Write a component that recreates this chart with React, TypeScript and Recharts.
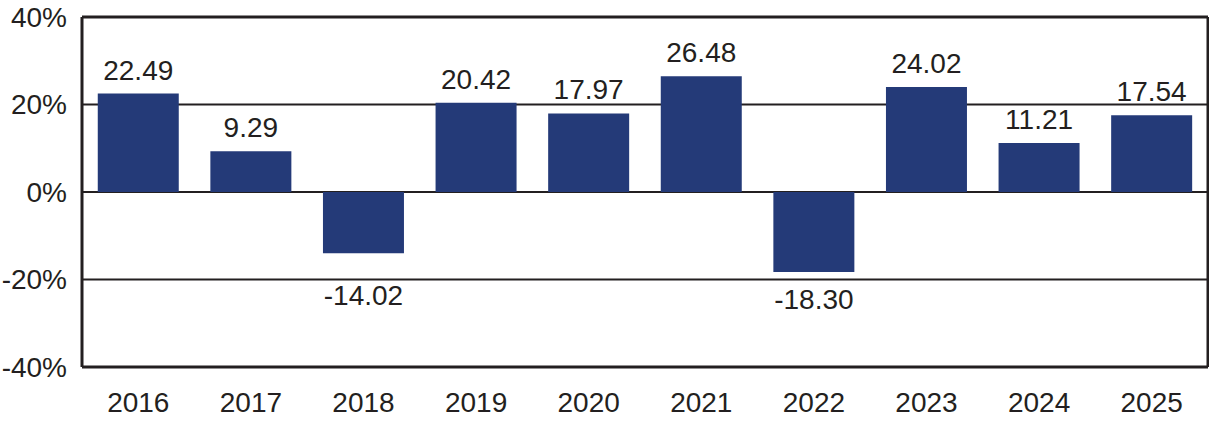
import { BarChart, Bar, XAxis, YAxis, CartesianGrid, LabelList } from "recharts";

const years = ["2016", "2017", "2018", "2019", "2020", "2021", "2022", "2023", "2024", "2025"];
const returns = [22.49, 9.29, -14.02, 20.42, 17.97, 26.48, -18.3, 24.02, 11.21, 17.54];
const yTicks = [-40, -20, 0, 20, 40];

const data = years.map((year, i) => ({ year, value: returns[i] }));

const ink = "#231f20";
const font = "'Liberation Sans', Arial, Helvetica, sans-serif";

const ValueLabel = (props: any) => {
  const { x, y, width, height, value } = props;
  const top = Math.min(y, y + height);
  const bottom = Math.max(y, y + height);
  const cx = x + width / 2;
  const text = Number(value).toFixed(2);
  if (value >= 0) {
    return (
      <text x={cx} y={top - 14} textAnchor="middle" fontSize={28} fontFamily={font} fill={ink}>
        {text}
      </text>
    );
  }
  // keep negative labels clear of the -20% gridline
  const perUnit = Math.abs(height) / Math.abs(value);
  const grid = top + 20 * perUnit;
  const capTop = Math.max(bottom + 17, grid + 5);
  return (
    <text x={cx} y={capTop + 20} textAnchor="middle" fontSize={28} fontFamily={font} fill={ink}>
      {text}
    </text>
  );
};

const App = () => {
  return (
    <div style={{ position: "absolute", left: 0, top: 0, background: "#fff" }}>
      <BarChart
        width={1209}
        height={421}
        data={data}
        margin={{ top: 0, right: 0, bottom: 0, left: 0 }}
        barCategoryGap="14%"
      >
        <CartesianGrid vertical={false} stroke={ink} strokeWidth={2} />
        <XAxis
          dataKey="year"
          height={54}
          tickLine={false}
          tickSize={23}
          tickMargin={2}
          axisLine={{ stroke: ink, strokeWidth: 3 }}
          tick={{ fontSize: 28, fontFamily: font, fill: ink }}
        />
        <XAxis
          xAxisId="top"
          dataKey="year"
          orientation="top"
          height={17}
          tick={false}
          tickLine={false}
          axisLine={{ stroke: ink, strokeWidth: 3 }}
        />
        <YAxis
          domain={[-40, 40]}
          ticks={yTicks}
          width={82}
          tickLine={false}
          tickSize={13}
          tickMargin={2}
          tickFormatter={(v: number) => `${v}%`}
          axisLine={{ stroke: ink, strokeWidth: 3 }}
          tick={{ fontSize: 28, fontFamily: font, fill: ink }}
        />
        <YAxis
          yAxisId="right"
          orientation="right"
          domain={[-40, 40]}
          ticks={yTicks}
          width={1}
          tick={false}
          tickLine={false}
          axisLine={{ stroke: ink, strokeWidth: 3 }}
        />
        <Bar dataKey="value" fill="#243a78" isAnimationActive={false}>
          <LabelList dataKey="value" content={ValueLabel} />
        </Bar>
      </BarChart>
    </div>
  );
};

export default App;
